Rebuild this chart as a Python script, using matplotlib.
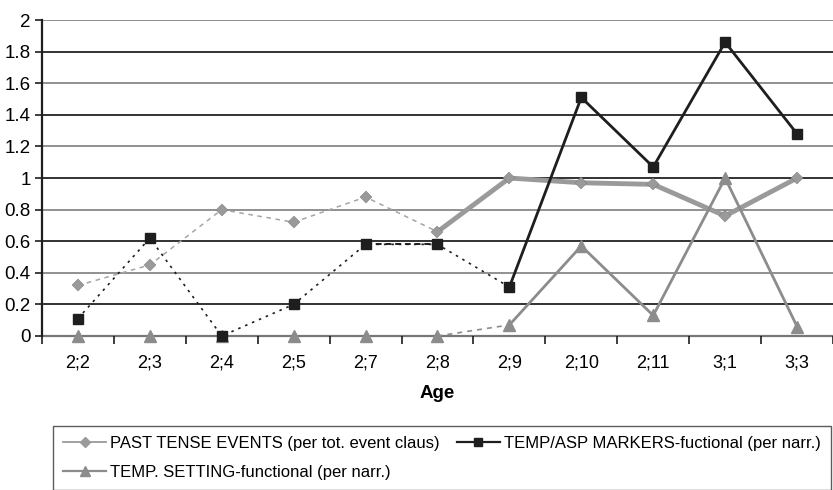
import numpy as np
import matplotlib.pyplot as plt
from matplotlib.lines import Line2D

plt.rcParams['font.family'] = ['Liberation Sans', 'DejaVu Sans']

ages = ["2;2", "2;3", "2;4", "2;5", "2;7", "2;8", "2;9", "2;10", "2;11", "3;1", "3;3"]
past_tense = [0.32, 0.45, 0.80, 0.72, 0.88, 0.66, 1.00, 0.97, 0.96, 0.76, 1.00]
temp_asp = [0.11, 0.62, 0.00, 0.20, 0.58, 0.58, 0.31, 1.51, 1.07, 1.86, 1.28]
temp_setting = [0.00, 0.00, 0.00, 0.00, 0.00, 0.00, 0.07, 0.57, 0.13, 1.00, 0.06]
yticks = [0, 0.2, 0.4, 0.6, 0.8, 1, 1.2, 1.4, 1.6, 1.8, 2]

x = np.arange(len(ages))
g1 = '#9a9a9a'
g2 = '#8c8c8c'
blk = '#1e1e1e'

fig = plt.figure(figsize=(8.33, 4.9), dpi=100)
ax = fig.add_axes([0.0504, 0.3143, 0.9496, 0.6447])

# grid lines (scan alternates dark/grey)
for i, v in enumerate(yticks):
    c = '#888888' if i % 2 == 0 else '#222222'
    ax.axhline(v, color=c, lw=1.3, zorder=0)

# early period: thin dashed
ax.plot(x[:6], past_tense[:6], color='#a5a5a5', lw=1.1, ls=(0, (3, 3)), zorder=2)
ax.plot(x[:7], temp_asp[:7], color=blk, lw=1.2, ls=(0, (1.5, 3)), zorder=3)
ax.plot(x[4:6], temp_asp[4:6], color=blk, lw=1.4, ls=(0, (3, 2)), zorder=3)
ax.plot(x[5:7], temp_setting[5:7], color=g2, lw=1.2, ls=(0, (3, 3)), zorder=2)

# later period: solid
ax.plot(x[5:], past_tense[5:], color=g1, lw=3.5, zorder=2)
ax.plot(x[6:], temp_asp[6:], color=blk, lw=2.0, zorder=3)
ax.plot(x[6:], temp_setting[6:], color=g2, lw=2.0, zorder=2)

# markers
ax.plot(x, past_tense, ls='none', marker='D', ms=6.5, color=g1, mec='#777777', mew=0.3,
        zorder=4, clip_on=False)
ax.plot(x, temp_asp, ls='none', marker='s', ms=7, color=blk, zorder=5, clip_on=False)
ax.plot(x, temp_setting, ls='none', marker='^', ms=9, color=g2, zorder=4, clip_on=False)

ax.set_xlim(-0.5, len(ages) - 0.5)
ax.set_ylim(0, 2)
ax.set_yticks(yticks)
ax.set_yticklabels([f"{v:g}" for v in yticks], fontsize=13.5)
ax.set_xticks(x)
ax.set_xticklabels(ages, fontsize=13)
ax.set_xticks(np.arange(-0.5, len(ages), 1), minor=True)
ax.tick_params(axis='x', which='major', length=0, pad=13)
ax.tick_params(axis='x', which='minor', length=6, width=1.2, direction='out', color=blk)
ax.tick_params(axis='y', length=5, width=1.2, direction='out', color=blk, pad=3)
ax.set_xlabel("Age", fontsize=13.5, fontweight='bold', labelpad=10)

for s in ['top', 'right']:
    ax.spines[s].set_visible(False)
ax.spines['left'].set_linewidth(1.6)
ax.spines['left'].set_color(blk)
ax.spines['bottom'].set_linewidth(1.6)
ax.spines['bottom'].set_color('#777777')
ax.spines['bottom'].set_zorder(1)

handles = [
    Line2D([], [], color=g1, lw=1.3, marker='D', ms=5, mec=g1),
    Line2D([], [], color=g2, lw=1.6, marker='^', ms=7),
    Line2D([], [], color=blk, lw=1.6, marker='s', ms=6),
]
labels = ["PAST TENSE EVENTS (per tot. event claus)",
          "TEMP. SETTING-functional (per narr.)",
          "TEMP/ASP MARKERS-fuctional (per narr.)"]
leg = fig.legend(handles, labels, loc='upper left', bbox_to_anchor=(53 / 833, 1 - 426 / 490),
                 ncol=2, fontsize=12, frameon=True, fancybox=False, edgecolor='#333333',
                 handlelength=2.6, handletextpad=0.25, columnspacing=1.0, borderpad=0.6,
                 labelspacing=0.85, borderaxespad=0)
leg.get_frame().set_linewidth(1.0)

fig.savefig('out.png', dpi=100)
